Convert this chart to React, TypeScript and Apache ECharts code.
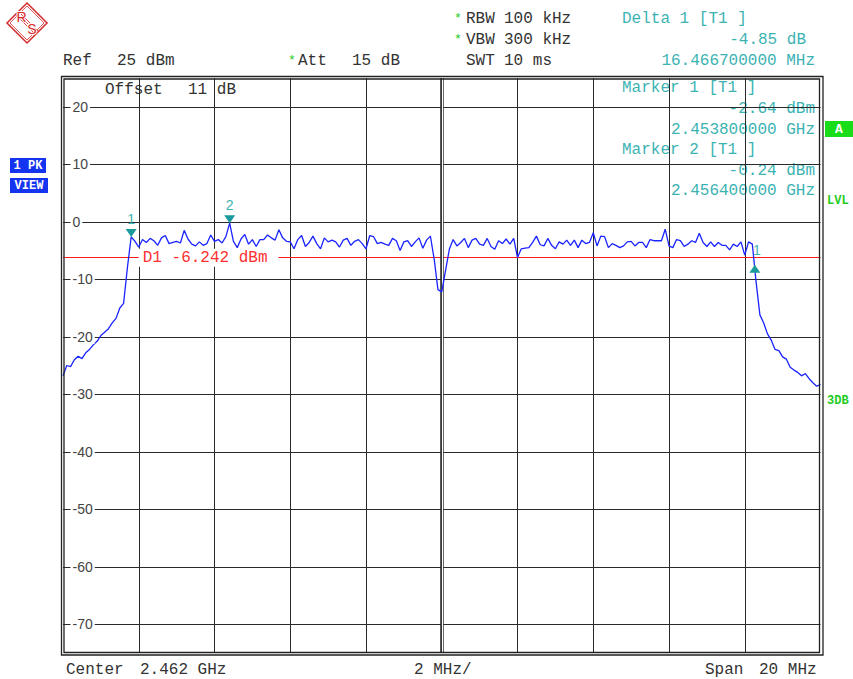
import React, { useEffect, useRef } from "react";
import * as echarts from "echarts";

// ---- sweep data (MHz / dBm) ----
const START_MHZ = 2452;
const STEP_MHZ = 0.1;
const traceDbm: number[] = [
  -26.8, -25.0, -25.2, -24.0, -23.4, -23.8, -22.8, -22.2, -21.4, -20.8,
  -19.8, -19.2, -18.6, -17.6, -16.8, -15.0, -14.2, -8.0, -2.64, -3.4,
  -4.4, -3.1, -3.6, -2.9, -3.3, -4.1, -2.8, -2.4, -3.8, -3.6,
  -3.4, -3.7, -1.5, -3.0, -3.9, -4.2, -3.5, -4.1, -3.8, -2.3,
  -3.4, -3.1, -3.7, -2.6, -0.24, -3.4, -4.5, -3.0, -2.2, -3.9,
  -3.1, -4.3, -3.1, -3.1, -2.3, -2.8, -3.2, -1.4, -2.8, -3.4,
  -3.5, -4.7, -3.1, -2.4, -4.3, -3.6, -2.5, -3.8, -4.7, -2.8,
  -3.5, -3.2, -3.5, -4.4, -3.2, -2.9, -4.1, -3.4, -3.1, -3.8,
  -4.7, -2.4, -2.6, -3.8, -3.6, -3.9, -4.1, -2.9, -3.3, -5.0,
  -3.5, -3.3, -4.3, -3.5, -2.8, -4.6, -3.2, -2.5, -6.5, -11.8,
  -12.2, -8.5, -4.8, -3.1, -4.2, -3.6, -2.9, -4.5, -3.2, -2.9,
  -3.9, -4.1, -2.9, -4.3, -4.8, -3.3, -3.8, -3.0, -3.9, -2.9,
  -6.2, -4.7, -4.6, -4.5, -3.6, -2.5, -4.0, -4.2, -2.9, -4.1,
  -4.7, -3.5, -3.9, -3.2, -4.1, -3.2, -4.5, -3.2, -3.8, -3.6,
  -1.9, -4.2, -2.5, -2.6, -4.5, -3.8, -4.1, -4.5, -4.2, -3.5,
  -3.4, -4.2, -3.6, -3.6, -4.5, -3.1, -3.3, -3.3, -3.3, -1.3,
  -4.2, -4.5, -3.1, -3.3, -4.3, -3.9, -3.3, -3.6, -2.0, -3.6,
  -4.3, -3.5, -4.3, -3.6, -4.1, -4.1, -4.9, -3.9, -4.3, -3.5,
  -5.8, -3.5, -3.9, -10.5, -16.2, -17.6, -19.5, -20.6, -22.2, -22.4,
  -23.5, -23.9, -25.3, -25.8, -26.2, -26.8, -26.4, -27.3, -28.0, -28.6,
  -28.3,
];

const X_MIN = 2452;
const X_MAX = 2472;
const X_INTERVAL = 2;
const Y_MIN = -75;
const Y_MAX = 25;
const yTicks = [20, 10, 0, -10, -20, -30, -40, -50, -60, -70];
const CENTER_MHZ = 2462;
const D1_LEVEL = -6.242;
const markerNames = ["1", "2"];
const markerFreqs = [2453.8, 2456.4];
const markerLevels = [-2.64, -0.24];
const DELTA_FREQ = 16.4667;
const DELTA_LEVEL = -4.85;

const MONO = "Liberation Mono";
const TEAL = "#3cb3b3";
const TEAL_DARK = "#1a9a9a";
const INK = "#333333";
const GREEN = "#22cc22";

function txt(text: string, x: number, y: number, fill: string, align = "left", font = `16px ${MONO}`) {
  return { type: "text", x, y, silent: true, style: { text, fill, font, align, verticalAlign: "middle" } };
}

export default function App() {
  const ref = useRef<HTMLDivElement>(null);
  useEffect(() => {
    document.body.style.margin = "0";
    if (!ref.current) return;
    const chart = echarts.init(ref.current, undefined, { renderer: "svg" });

    const seriesData = traceDbm.map((v, i) => [Math.round((START_MHZ + i * STEP_MHZ) * 10) / 10, v]);
    const deltaFreq = markerFreqs[0] + DELTA_FREQ;
    const deltaLevel = markerLevels[0] + DELTA_LEVEL;

    const markerPoints: any[] = markerFreqs.map((f, i) => ({
      coord: [f, markerLevels[i]],
      symbol: "triangle",
      symbolRotate: 180,
      symbolSize: [11, 8],
      symbolOffset: [0, -4],
      itemStyle: { color: TEAL_DARK },
      label: {
        show: true, position: "top", distance: 3, formatter: markerNames[i],
        color: TEAL, fontSize: 14, fontFamily: "Liberation Sans",
      },
    }));
    markerPoints.push({
      coord: [deltaFreq, deltaLevel],
      symbol: "triangle",
      symbolSize: [11, 8],
      symbolOffset: [0, 4],
      itemStyle: { color: TEAL_DARK },
      label: {
        show: true, position: "top", distance: 8, offset: [2, 0], formatter: markerNames[0],
        color: TEAL, fontSize: 14, fontFamily: "Liberation Sans",
      },
    });
    markerPoints.push({
      coord: [X_MIN + X_INTERVAL, D1_LEVEL],
      symbol: "circle",
      symbolSize: 0,
      itemStyle: { color: "transparent" },
      label: {
        show: true, position: "right", distance: 0,
        formatter: `D1 ${D1_LEVEL.toFixed(3)} dBm`,
        color: "#ff3030", fontSize: 16, fontFamily: MONO,
        backgroundColor: "#ffffff", padding: [1, 11, 1, 4],
      },
    });

    const graphics: any[] = [
      { type: "rect", silent: true, shape: { x: 61.5, y: 76.5, width: 761.5, height: 578.5 }, style: { fill: "none", stroke: "#222", lineWidth: 1.3 }, z: 10 },
      { type: "rect", silent: true, shape: { x: 64, y: 79, width: 755.5, height: 573.5 }, style: { fill: "none", stroke: "#222", lineWidth: 1.3 }, z: 10 },
      {
        type: "group", x: 0, y: 0, silent: true, children: [
          { type: "polygon", shape: { points: [[27, 3], [47, 23], [27, 43], [7, 23]] }, style: { fill: "none", stroke: "#d42a2a", lineWidth: 1.5 } },
          { type: "polygon", shape: { points: [[27, 6], [44, 23], [27, 40], [10, 23]] }, style: { fill: "none", stroke: "#d42a2a", lineWidth: 0.8 } },
          { type: "line", shape: { x1: 18.5, y1: 11.5, x2: 38.5, y2: 31.5 }, style: { stroke: "#d42a2a", lineWidth: 0.9 } },
          { type: "line", shape: { x1: 17, y1: 13, x2: 37, y2: 33 }, style: { stroke: "#d42a2a", lineWidth: 0.9 } },
          { type: "line", shape: { x1: 15.5, y1: 14.5, x2: 35.5, y2: 34.5 }, style: { stroke: "#d42a2a", lineWidth: 0.9 } },
          { type: "text", x: 21.5, y: 17, style: { text: "R", fill: "#d42a2a", font: "14px Liberation Sans", align: "center", verticalAlign: "middle", stroke: "#fff", lineWidth: 2 } },
          { type: "text", x: 32, y: 29, style: { text: "S", fill: "#d42a2a", font: "14px Liberation Sans", align: "center", verticalAlign: "middle", stroke: "#fff", lineWidth: 2 } },
        ],
      },
      txt("Ref", 63, 61, INK),
      txt("25 dBm", 117, 61, INK),
      txt("*", 288, 60, GREEN, "left", `13px ${MONO}`),
      txt("Att", 298, 61, INK),
      txt("15 dB", 352, 61, INK),
      txt("*", 454, 18, GREEN, "left", `13px ${MONO}`),
      txt("RBW", 466, 19, INK),
      txt("100 kHz", 504, 19, INK),
      txt("*", 454, 39, GREEN, "left", `13px ${MONO}`),
      txt("VBW", 466, 40, INK),
      txt("300 kHz", 504, 40, INK),
      txt("SWT", 466, 61, INK),
      txt("10 ms", 504, 61, INK),
      txt("Delta 1 [T1 ]", 622, 19, TEAL),
      txt("-4.85 dB", 806, 40, TEAL, "right"),
      txt("16.466700000 MHz", 815, 61, TEAL, "right"),
      txt("Offset", 105, 90, INK),
      txt("11 dB", 188, 90, INK),
      txt("Marker 1 [T1 ]", 622, 88, TEAL),
      txt("-2.64 dBm", 815, 109, TEAL, "right"),
      txt("2.453800000 GHz", 815, 130, TEAL, "right"),
      txt("Marker 2 [T1 ]", 622, 150, TEAL),
      txt("-0.24 dBm", 815, 171, TEAL, "right"),
      txt("2.456400000 GHz", 815, 191, TEAL, "right"),
      txt("Center", 66, 670, INK),
      txt("2.462 GHz", 140, 670, INK),
      txt("2 MHz/", 414, 670, INK),
      txt("Span", 705, 670, INK),
      txt("20 MHz", 759, 670, INK),
      { type: "rect", silent: true, shape: { x: 10, y: 158, width: 36, height: 15 }, style: { fill: "#1434f0" } },
      txt("1 PK", 28, 165.5, "#ffffff", "center", `bold 12px ${MONO}`),
      { type: "rect", silent: true, shape: { x: 10, y: 178, width: 38, height: 15 }, style: { fill: "#1434f0" } },
      txt("VIEW", 29, 185.5, "#ffffff", "center", `bold 12px ${MONO}`),
      { type: "rect", silent: true, shape: { x: 825, y: 121, width: 28, height: 16 }, style: { fill: "#18dd18" } },
      txt("A", 839, 129, "#ffffff", "center", `bold 13px ${MONO}`),
      txt("LVL", 827, 201, GREEN, "left", `bold 12px ${MONO}`),
      txt("3DB", 827, 401, GREEN, "left", `bold 12px ${MONO}`),
    ];

    chart.setOption({
      animation: false,
      backgroundColor: "#ffffff",
      grid: { left: 63, top: 78, width: 757.5, height: 575, show: false },
      xAxis: {
        type: "value", min: X_MIN, max: X_MAX, interval: X_INTERVAL,
        axisLine: { show: false }, axisTick: { show: false }, axisLabel: { show: false },
        splitLine: { show: true, showMinLine: false, showMaxLine: false, lineStyle: { color: "#2a2a2a", width: 1 } },
      },
      yAxis: [
        {
          type: "value", min: Y_MIN, max: Y_MAX,
          axisLine: { show: false },
          axisTick: { show: false, customValues: yTicks },
          axisLabel: { show: false, customValues: yTicks },
          splitLine: { show: true, lineStyle: { color: "#2a2a2a", width: 1 } },
        },
        {
          type: "value", min: Y_MIN, max: Y_MAX, position: "left", z: 3,
          axisLine: { show: false },
          axisTick: { show: false, customValues: yTicks },
          splitLine: { show: false },
          axisLabel: {
            show: true, inside: true, margin: 7.5, customValues: yTicks,
            color: "#444", fontSize: 14, fontFamily: "Liberation Sans",
            backgroundColor: "#ffffff", padding: [0, 2, 0, 2],
          },
        },
      ],
      series: [
        {
          type: "line",
          data: seriesData,
          showSymbol: false,
          symbol: "none",
          lineStyle: { color: "#1a24ff", width: 1.3 },
          z: 2,
          markLine: {
            silent: true, symbol: "none", z: 1, animation: false,
            label: { show: false },
            data: [
              { yAxis: D1_LEVEL, lineStyle: { color: "#ff1a1a", width: 1, type: "solid" } },
              { xAxis: CENTER_MHZ, lineStyle: { color: "#222", width: 3.5, type: "solid" } },
              { xAxis: CENTER_MHZ, lineStyle: { color: "#ffffff", width: 1.2, type: "solid" } },
            ],
          },
          markPoint: { silent: true, z: 10, animation: false, data: markerPoints },
        },
      ],
      graphic: graphics,
    });

    return () => chart.dispose();
  }, []);
  return <div ref={ref} style={{ width: 853, height: 679 }} />;
}
